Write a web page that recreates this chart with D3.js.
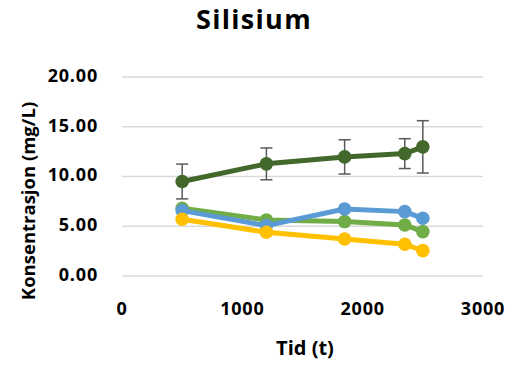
<!DOCTYPE html>
<html><head><meta charset="utf-8">
<script src="https://cdn.jsdelivr.net/npm/d3@7"></script>
<style>body{margin:0;background:#fff}svg{display:block}text{font-family:"Open Sans",sans-serif;font-weight:bold}</style>
</head><body>
<script>
const xValues = [500, 1200, 1850, 2350, 2500];
const darkGreen = [9.5, 11.27, 11.97, 12.3, 12.98];
const darkGreenErr = [1.75, 1.6, 1.72, 1.5, 2.63];
const lightGreen = [6.81, 5.63, 5.47, 5.13, 4.46];
const blue = [6.57, 5.06, 6.74, 6.47, 5.8];
const yellow = [5.7, 4.4, 3.72, 3.19, 2.55];
const xTicks = [0, 1000, 2000, 3000];
const yTicks = [0, 5, 10, 15, 20];

const W = 512, H = 365;
const svg = d3.select("body").append("svg").attr("width", W).attr("height", H);
const x = d3.scaleLinear().domain([0, 3000]).range([122, 483]);
const y = d3.scaleLinear().domain([0, 20]).range([276, 77]);

svg.append("g").selectAll("line").data(yTicks).join("line")
  .attr("x1", x(0)).attr("x2", x(3000)).attr("y1", d => y(d)).attr("y2", d => y(d))
  .attr("stroke", "#d9d9d9").attr("stroke-width", 1.3);

svg.append("g").selectAll("text").data(yTicks).join("text")
  .attr("x", 98).attr("y", d => y(d) + 4.8).attr("text-anchor", "end")
  .attr("font-size", 18).attr("letter-spacing", 0.8).attr("fill", "#000").text(d => d.toFixed(2));
svg.append("g").selectAll("text").data(xTicks).join("text")
  .attr("x", d => x(d)).attr("y", 315).attr("text-anchor", "middle")
  .attr("font-size", 18).attr("letter-spacing", 0.8).attr("fill", "#000").text(d => d);

svg.append("text").attr("x", 254).attr("y", 29).attr("text-anchor", "middle").attr("font-size", 27).attr("letter-spacing", 1.3).text("Silisium");
svg.append("text").attr("x", 305).attr("y", 355).attr("text-anchor", "middle").attr("font-size", 20).text("Tid (t)");
svg.append("text").attr("transform", "translate(35,201) rotate(-90)").attr("text-anchor", "middle").attr("font-size", 18.5).text("Konsentrasjon (mg/L)");

// error bars
const eg = svg.append("g").attr("stroke", "#595959").attr("stroke-width", 1.5);
xValues.forEach((xv, i) => {
  const top = y(darkGreen[i] + darkGreenErr[i]), bot = y(darkGreen[i] - darkGreenErr[i]);
  eg.append("line").attr("x1", x(xv)).attr("x2", x(xv)).attr("y1", top).attr("y2", bot);
  eg.append("line").attr("x1", x(xv) - 6).attr("x2", x(xv) + 6).attr("y1", top).attr("y2", top);
  eg.append("line").attr("x1", x(xv) - 6).attr("x2", x(xv) + 6).attr("y1", bot).attr("y2", bot);
});

const series = [
  {vals: darkGreen, color: "#43682b"},
  {vals: lightGreen, color: "#70ad47"},
  {vals: blue, color: "#5b9bd5"},
  {vals: yellow, color: "#ffc000"}
];
const line = d3.line().x((d, i) => x(xValues[i])).y(d => y(d));
series.forEach(s => {
  svg.append("path").datum(s.vals).attr("d", line).attr("fill", "none")
    .attr("stroke", s.color).attr("stroke-width", 5).attr("stroke-linejoin", "round");
  svg.append("g").selectAll("circle").data(s.vals).join("circle")
    .attr("cx", (d, i) => x(xValues[i])).attr("cy", d => y(d)).attr("r", 6.8).attr("fill", s.color);
});
</script>
</body></html>
